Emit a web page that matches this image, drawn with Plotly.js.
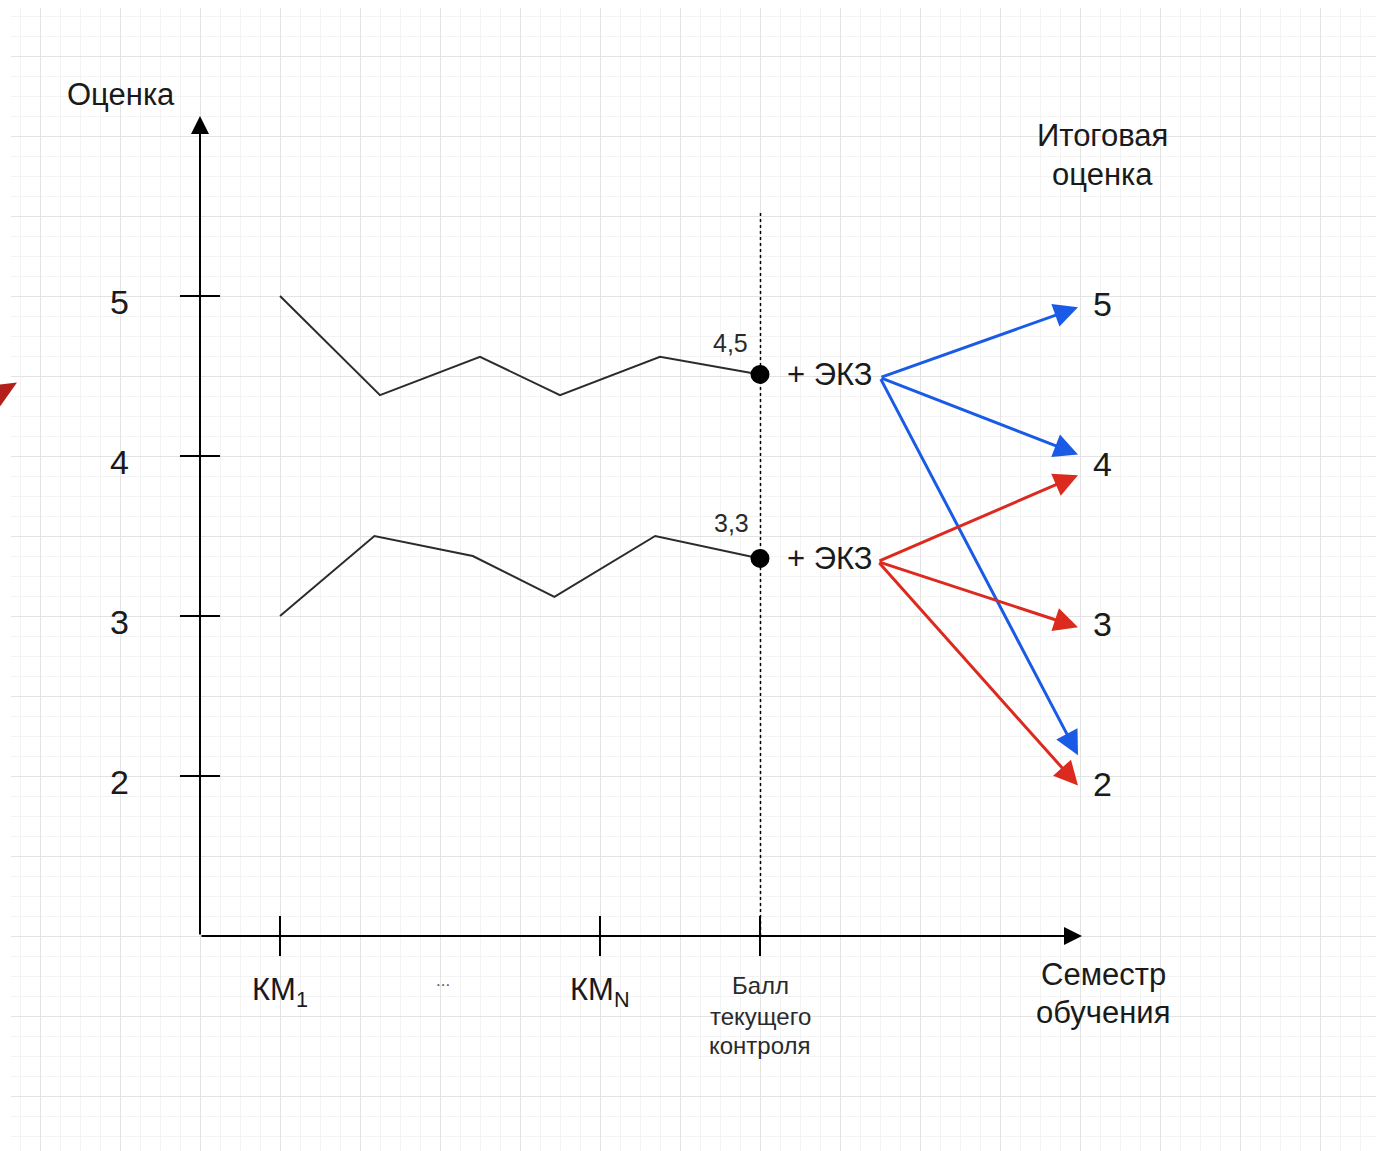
<!DOCTYPE html>
<html>
<head>
<meta charset="utf-8">
<script src="https://cdn.plot.ly/plotly-3.0.1.min.js"></script>
<style>
  html, body { margin: 0; padding: 0; background: #ffffff; }
  #chart { width: 1376px; height: 1151px; }
</style>
</head>
<body>
<div id="chart"></div>
<script>
// ---- data ----
const upperX = [1, 2.25, 3.5, 4.5, 5.75, 7];
const upperScores = [5, 4.38, 4.62, 4.38, 4.62, 4.51];
const lowerX = [1, 2.18, 3.41, 4.43, 5.69, 7];
const lowerScores = [3, 3.5, 3.375, 3.12, 3.5, 3.36];
const currentLabels = ['4,5', '3,3'];
const gradeTicks = [2, 3, 4, 5];
const finalGrades = [5, 4, 3, 2];
const xTickPos = [1, 5, 7];
const xTickLabels = ['КМ<sub>1</sub>', 'КМ<sub>N</sub>'];
const controlLabelLines = ['Балл', 'текущего', 'контроля'];
const examLabel = '+ ЭКЗ';
const blueTargets = [4.93, 4.01, 2.13];
const redTargets = [3.88, 2.93, 1.94];
const yTitle = 'Оценка';
const xTitleLines = ['Семестр', 'обучения'];
const finalTitleLines = ['Итоговая', 'оценка'];

// ---- styling ----
const FONT = 'Liberation Sans, Arial, Helvetica, sans-serif';
const TXT = '#1a1a1a';
const BLUE = '#1a5be6';
const RED = '#dc2a1e';

const traces = [
  { x: upperX, y: upperScores, mode: 'lines', line: { color: '#2b2b2b', width: 2 }, hoverinfo: 'skip' },
  { x: lowerX, y: lowerScores, mode: 'lines', line: { color: '#2b2b2b', width: 2 }, hoverinfo: 'skip' },
  { x: [upperX[upperX.length - 1], lowerX[lowerX.length - 1]],
    y: [upperScores[upperScores.length - 1], lowerScores[lowerScores.length - 1]],
    mode: 'markers', marker: { color: '#000', size: 19 }, hoverinfo: 'skip' }
];

const shapes = [];
// y-axis ticks
gradeTicks.forEach(g => shapes.push({ type: 'line', xref: 'x', yref: 'y', x0: -0.25, x1: 0.25, y0: g, y1: g, line: { color: '#000', width: 2 } }));
// x-axis ticks
xTickPos.forEach(p => shapes.push({ type: 'line', xref: 'x', yref: 'y', x0: p, x1: p, y0: 0.875, y1: 1.125, line: { color: '#000', width: 2 } }));
// dotted vertical line at current-control point
shapes.push({ type: 'line', xref: 'x', yref: 'y', x0: 7.00625, x1: 7.00625, y0: 1, y1: 5.525, line: { color: '#000', width: 1.5, dash: '3px,3px' } });
// small red fragment at the left edge
shapes.push({ type: 'path', xref: 'paper', yref: 'paper', path: 'M -0.0081,0.6706 L 0.0044,0.6724 L -0.0081,0.6513 Z', fillcolor: '#b3201c', line: { width: 0 } });

const ann = [];
function txt(x, y, text, size, extra) {
  ann.push(Object.assign({ x: x, y: y, xref: 'x', yref: 'y', text: text, showarrow: false,
    font: { family: FONT, size: size, color: TXT }, xanchor: 'center', yanchor: 'middle' }, extra || {}));
}
function arrow(x0, y0, x1, y1, color, width, size) {
  ann.push({ x: x1, y: y1, ax: x0, ay: y0, xref: 'x', yref: 'y', axref: 'x', ayref: 'y', text: '',
    showarrow: true, arrowhead: 2, arrowsize: size, arrowwidth: width, arrowcolor: color, standoff: 0, startstandoff: 0 });
}
// axes
arrow(0, 1, 0, 6.125, '#000', 2, 1.8);
arrow(0, 1, 11.025, 1, '#000', 2, 1.8);
// outcome arrows
blueTargets.forEach(t => arrow(8.5, 4.49, 10.975, t, BLUE, 3, 1.6));
redTargets.forEach(t => arrow(8.475, 3.34, 10.975, t, RED, 3, 1.6));

// texts
txt(-0.9875, 6.2625, yTitle, 31);
gradeTicks.forEach(g => txt(-1.0125, g - 0.0375, String(g), 34));
finalGrades.forEach(g => txt(11.275, g - 0.05, String(g), 34));
txt(11.275, 6.006, finalTitleLines[0], 31);
txt(11.275, 5.7625, finalTitleLines[1], 31);
txt(11.2875, 0.7625, xTitleLines[0], 31);
txt(11.2875, 0.525, xTitleLines[1], 31);
txt(xTickPos[0], 0.65, xTickLabels[0], 31);
txt(xTickPos[1], 0.65, xTickLabels[1], 31);
txt(3.0375, 0.72, '...', 17, { font: { family: FONT, size: 17, color: '#555' } });
[0.69, 0.495, 0.315].forEach((y, i) => txt(xTickPos[2], y, controlLabelLines[i], 24, { font: { family: FONT, size: 24, color: '#2a2a2a' } }));
txt(6.625, 4.706, currentLabels[0], 25, { font: { family: FONT, size: 25, color: '#2a2a2a' } });
txt(6.6375, 3.58, currentLabels[1], 25, { font: { family: FONT, size: 25, color: '#2a2a2a' } });
txt(7.8625, upperScores[upperScores.length - 1], examLabel, 31);
txt(7.8625, lowerScores[lowerScores.length - 1], examLabel, 31);

const layout = {
  width: 1376, height: 1151,
  margin: { l: 11, r: 0, t: 8, b: 0, pad: 0 },
  paper_bgcolor: '#ffffff', plot_bgcolor: '#ffffff',
  showlegend: false,
  xaxis: { range: [-2.3625, 14.7], tick0: 0, dtick: 1, showgrid: true, gridcolor: '#e3e3e3', gridwidth: 1,
    minor: { dtick: 0.25, showgrid: true, gridcolor: '#f3f3f3', gridwidth: 1 },
    zeroline: false, showline: false, showticklabels: false, ticks: '', fixedrange: true },
  yaxis: { range: [-0.34375, 6.8], tick0: 0, dtick: 0.5, showgrid: true, gridcolor: '#e3e3e3', gridwidth: 1,
    minor: { dtick: 0.125, showgrid: true, gridcolor: '#f3f3f3', gridwidth: 1 },
    zeroline: false, showline: false, showticklabels: false, ticks: '', fixedrange: true },
  shapes: shapes,
  annotations: ann
};

Plotly.newPlot('chart', traces, layout, { displayModeBar: false, staticPlot: true });
</script>
</body>
</html>
